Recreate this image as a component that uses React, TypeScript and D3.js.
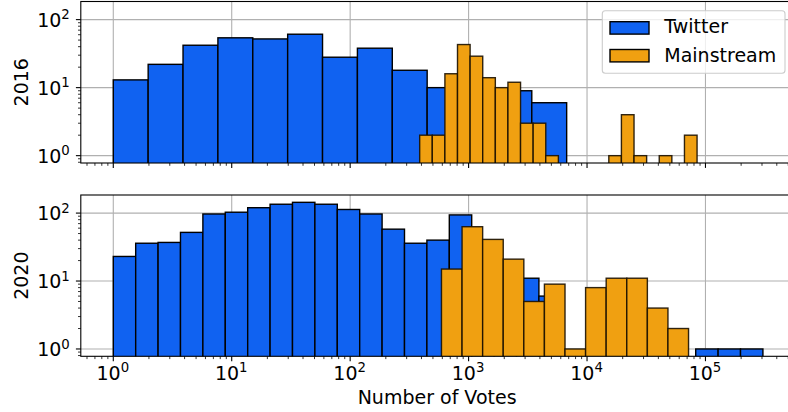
import React from "react";
import * as d3 from "d3";

// ---- Data (histogram counts, log-spaced bins) ----
const twitter2016Counts = [13, 22, 42, 54, 52, 61, 28, 38, 18, 10, 8, 9, 6];
const twitter2016LogRange = [0, 3.828];
const mainstream2016Counts = [2, 2, 16, 43, 29, 14, 10, 12, 3, 3, 1, 0, 0, 0, 0, 1, 4, 1, 0, 1, 0, 2];
const mainstream2016LogRange = [2.587, 4.929];

const twitter2020Counts = [23, 36, 37, 52, 97, 103, 120, 135, 144, 135, 113, 97, 58, 36, 40, 94, 30, 15, 11, 6, 0, 0, 0, 0, 0, 0, 1, 1, 1];
const twitter2020LogRange = [0, 5.485];
const mainstream2020Counts = [15, 63, 41, 21, 5, 9, 1, 8, 11, 11, 4, 2];
const mainstream2020LogRange = [2.771, 4.857];

const panelLabels = ["2016", "2020"];
const seriesNames = ["Twitter", "Mainstream"];
const xTickValues = [1, 10, 100, 1000, 10000, 100000];
const yTickValues = [1, 10, 100];

const COLORS = ["#1062f1", "#f0a011"];
const FONT = "DejaVu Sans, sans-serif";
const FS = 19;

type Series = { counts: number[]; range: number[] };
const panels: Series[][] = [
  [
    { counts: twitter2016Counts, range: twitter2016LogRange },
    { counts: mainstream2016Counts, range: mainstream2016LogRange },
  ],
  [
    { counts: twitter2020Counts, range: twitter2020LogRange },
    { counts: mainstream2020Counts, range: mainstream2020LogRange },
  ],
];

function bins(s: Series) {
  const n = s.counts.length;
  const [a, b] = s.range;
  return s.counts.map((c, i) => ({
    x0: Math.pow(10, a + ((b - a) * i) / n),
    x1: Math.pow(10, a + ((b - a) * (i + 1)) / n),
    c,
  }));
}

function Sup({ base, exp }: { base: string; exp: string }) {
  return (
    <>
      {base}
      <tspan fontSize={FS * 0.7} dy={-7.6}>{exp}</tspan>
    </>
  );
}

export default function App() {
  const W = 788, H = 412;
  const left = 80.8, right = 795.4;
  const allMaxLog = d3.max(panels.flat(), (s) => s.range[1]) as number;
  const x = d3
    .scaleLog()
    .domain([Math.pow(10, -0.05 * allMaxLog), Math.pow(10, 1.05 * allMaxLog)])
    .range([left, right]);

  const maxCount = d3.max(panels.flat(), (s) => d3.max(s.counts)) as number;
  const L = Math.log10(maxCount);
  const yDomain = [Math.pow(10, -0.05 * L), Math.pow(10, 1.05 * L)];

  const panelBox = [
    { top: 1.5, bottom: 163.0 },
    { top: 195.0, bottom: 356.3 },
  ];

  const [xd0, xd1] = x.domain();
  const xMinor: number[] = [];
  for (let e = -1; e <= 6; e++) {
    for (let m = 2; m <= 9; m++) {
      const v = m * Math.pow(10, e);
      if (v >= xd0 && v <= xd1) xMinor.push(v);
    }
  }
  const yMinor: number[] = [];
  for (let e = -1; e <= 3; e++) {
    for (let m = 2; m <= 9; m++) {
      const v = m * Math.pow(10, e);
      if (v >= yDomain[0] && v <= yDomain[1]) yMinor.push(v);
    }
  }

  return (
    <svg
      width={W}
      height={H}
      style={{ position: "absolute", left: 0, top: 0, background: "#fff" }}
      fontFamily={FONT}
    >
      <defs>
        {panelBox.map((pb, pi) => (
          <clipPath id={`clip${pi}`} key={pi}>
            <rect x={left} y={pb.top} width={right - left} height={pb.bottom - pb.top} />
          </clipPath>
        ))}
      </defs>
      {panels.map((series, pi) => {
        const pb = panelBox[pi];
        const y = d3.scaleLog().domain(yDomain).range([pb.bottom, pb.top]);
        return (
          <g key={pi}>
            {/* grid */}
            <g stroke="#b0b0b0" strokeWidth={1.1}>
              {xTickValues.map((t) => (
                <line key={"gx" + t} x1={x(t)} x2={x(t)} y1={pb.top} y2={pb.bottom} />
              ))}
              {yTickValues.map((t) => (
                <line key={"gy" + t} x1={left} x2={right} y1={y(t)} y2={y(t)} />
              ))}
            </g>
            {/* bars */}
            <g clipPath={`url(#clip${pi})`}>
              {series.map((s, si) =>
                bins(s).map((b, bi) => {
                  const yt = b.c > 0 ? y(b.c) : pb.bottom + 2;
                  return (
                    <rect
                      key={si + "-" + bi}
                      x={x(b.x0)}
                      width={x(b.x1) - x(b.x0)}
                      y={yt}
                      height={pb.bottom + 2 - yt}
                      fill={COLORS[si]}
                      stroke={si === 0 ? "#000" : "#1a1000"}
                      strokeOpacity={si === 0 ? 1 : 0.9}
                      strokeWidth={1.4}
                    />
                  );
                })
              )}
            </g>
            {/* spines */}
            <rect
              x={left}
              y={pb.top}
              width={right - left}
              height={pb.bottom - pb.top}
              fill="none"
              stroke="#000"
              strokeWidth={1.1}
            />
            {/* ticks */}
            <g stroke="#000">
              {xTickValues.map((t) => (
                <line key={"xt" + t} x1={x(t)} x2={x(t)} y1={pb.bottom} y2={pb.bottom + 4.9} strokeWidth={1.1} />
              ))}
              {xMinor.map((t) => (
                <line key={"xm" + t} x1={x(t)} x2={x(t)} y1={pb.bottom} y2={pb.bottom + 2.8} strokeWidth={0.8} />
              ))}
              {yTickValues.map((t) => (
                <line key={"yt" + t} x1={left - 4.9} x2={left} y1={y(t)} y2={y(t)} strokeWidth={1.1} />
              ))}
              {yMinor.map((t) => (
                <line key={"ym" + t} x1={left - 2.8} x2={left} y1={y(t)} y2={y(t)} strokeWidth={0.8} />
              ))}
            </g>
            {/* y tick labels */}
            {yTickValues.map((t) => (
              <text key={"yl" + t} x={69.8} y={y(t) + 7.3} textAnchor="end" fontSize={FS} fill="#000">
                <Sup base="10" exp={String(Math.round(Math.log10(t)))} />
              </text>
            ))}
            {/* y label */}
            <text
              transform={`translate(28.3, ${(pb.top + pb.bottom) / 2}) rotate(-90)`}
              textAnchor="middle"
              fontSize={FS}
              fill="#000"
            >
              {panelLabels[pi]}
            </text>
          </g>
        );
      })}
      {/* x tick labels (bottom panel only) */}
      {xTickValues.map((t) => (
        <text key={"xl" + t} x={x(t) - 0.5} y={panelBox[1].bottom + 23.7} textAnchor="middle" fontSize={FS} fill="#000">
          <Sup base="10" exp={String(Math.round(Math.log10(t)))} />
        </text>
      ))}
      <text x={(left + right) / 2 - 1} y={404.3} textAnchor="middle" fontSize={FS} fill="#000">
        Number of Votes
      </text>
      {/* legend */}
      <g>
        <rect x={602.3} y={10.7} width={182.7} height={62.6} rx={3} fill="#fff" fillOpacity={0.8} stroke="#cccccc" strokeWidth={1.1} />
        {seriesNames.map((name, i) => (
          <g key={name}>
            <rect x={610} y={21.7 + i * 27.8} width={39} height={12.4} fill={COLORS[i]} stroke="#000" strokeWidth={1.4} />
            <text x={664.3} y={33.4 + i * 28.1} fontSize={FS} fill="#000">
              {name}
            </text>
          </g>
        ))}
      </g>
    </svg>
  );
}
